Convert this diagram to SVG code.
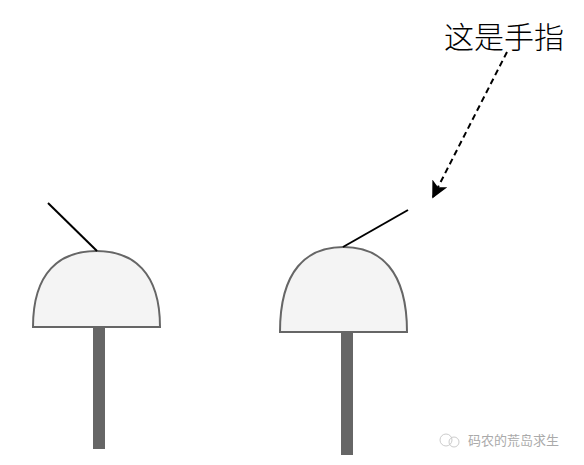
<svg xmlns="http://www.w3.org/2000/svg" width="584" height="465" viewBox="0 0 584 465">
<style>
.dome{fill:#f4f4f4;stroke:#666;stroke-width:2}
.stem{fill:#666}
.finger{stroke:#000;stroke-width:2;fill:none}
.lbl{font-family:"Noto Sans CJK SC","Noto Sans",sans-serif;font-size:30px;font-weight:300;fill:#000}
.wm{font-family:"Noto Sans CJK SC",sans-serif;font-size:13px;fill:#aaa}
</style>
<defs>
<marker id="ah" viewBox="0 0 10 10" refX="9" refY="5" markerWidth="8.5" markerHeight="8.5" orient="auto" markerUnits="strokeWidth">
<path d="M0,0 L10,5 L0,10 L2.5,5 Z" fill="#000"/>
</marker>
</defs>
<rect width="584" height="465" fill="#fff"/>
<g id="key1">
<rect class="stem" x="93" y="327" width="12" height="122"/>
<path class="dome" d="M33,327 C33,272 60,251 96.5,251 C133,251 160,272 160,327 Z"/>
</g>
<g id="key2">
<rect class="stem" x="341" y="332" width="12" height="123"/>
<path class="dome" d="M280,332 C280,270 307,247 343.5,247 C380,247 407,270 407,332 Z"/>
</g>
<g id="label">
<text class="lbl" x="444" y="48">这是手指</text>
</g>
<g id="connectors">
<line class="finger" x1="48" y1="203" x2="97" y2="251"/>
<line class="finger" x1="343" y1="247" x2="408" y2="210"/>
<line x1="507" y1="52" x2="433" y2="197" stroke="#000" stroke-width="2" stroke-dasharray="6,4" marker-end="url(#ah)"/>
</g>
<g id="watermark">
<circle cx="446" cy="440" r="6" fill="none" stroke="#ccc" stroke-width="1"/>
<circle cx="454" cy="442" r="5" fill="none" stroke="#ccc" stroke-width="1"/>
<text class="wm" x="468" y="445">码农的荒岛求生</text>
</g>
</svg>
